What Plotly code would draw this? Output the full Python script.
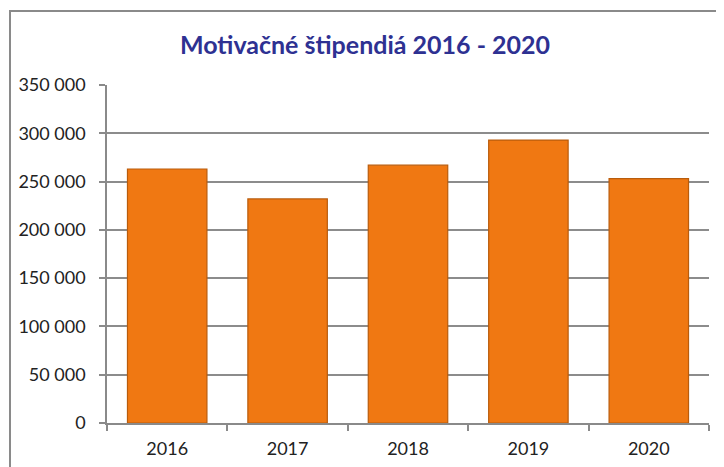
import plotly.graph_objects as go

years = ["2016", "2017", "2018", "2019", "2020"]
values = [263000, 232000, 267000, 293000, 253000]
y_ticks = [0, 50000, 100000, 150000, 200000, 250000, 300000, 350000]
title_text = "Motivačné štipendiá 2016 - 2020"

# page body has an 8px default margin; compensate
OFF = 8
W, H = 724 - OFF, 467 - OFF
L, R, T, B = 107 - OFF, 15, 85 - OFF, 44
pw, ph = W - L - R, H - T - B

fig = go.Figure()
fig.add_trace(go.Bar(
    x=years, y=values,
    marker=dict(color="#F07812", line=dict(color="#B95C0C", width=1.2)),
    width=0.66,
))

# outer chart border (left/top visible)
bx, by = 10 - OFF, 11 - OFF
fig.add_shape(type="rect", xref="paper", yref="paper",
              x0=(bx - L) / pw, x1=(W + 20 - L) / pw,
              y0=-(B + 20) / ph, y1=(T - by) / ph + 1,
              line=dict(color="#8A8A8A", width=2), layer="below")

fig.update_layout(
    width=W, height=H,
    margin=dict(l=L, r=R, t=T, b=B, pad=0),
    paper_bgcolor="white", plot_bgcolor="white",
    separators=". ",
    showlegend=False,
    font=dict(family="Lato, 'Open Sans', sans-serif", size=17, color="#222222"),
    title=dict(text="<b>" + title_text + "</b>", x=(365 - OFF) / W, xanchor="center",
               y=1 - (45 - OFF) / H, yanchor="middle",
               font=dict(family="Lato, 'Open Sans', sans-serif", size=25, color="#2E3192")),
    xaxis=dict(showgrid=False, showline=True, linecolor="#8A8A8A", linewidth=1.5,
               ticks="outside", tickson="boundaries", ticklen=6, tickcolor="#8A8A8A",
               tickwidth=1.5, ticklabelstandoff=9, automargin=False,
               tickfont=dict(size=18, color="#222222")),
    yaxis=dict(range=[0, 350000], tickvals=y_ticks, tickformat=",d",
               showgrid=True, gridcolor="#8C8C8C", gridwidth=1.5,
               showline=True, linecolor="#8A8A8A", linewidth=1.5,
               ticks="outside", ticklen=6, tickcolor="#8A8A8A", tickwidth=1.5,
               ticklabelstandoff=10, zeroline=False, automargin=False,
               tickfont=dict(size=18, color="#222222")),
    bargap=0.34,
)

fig.write_html("out.html")
